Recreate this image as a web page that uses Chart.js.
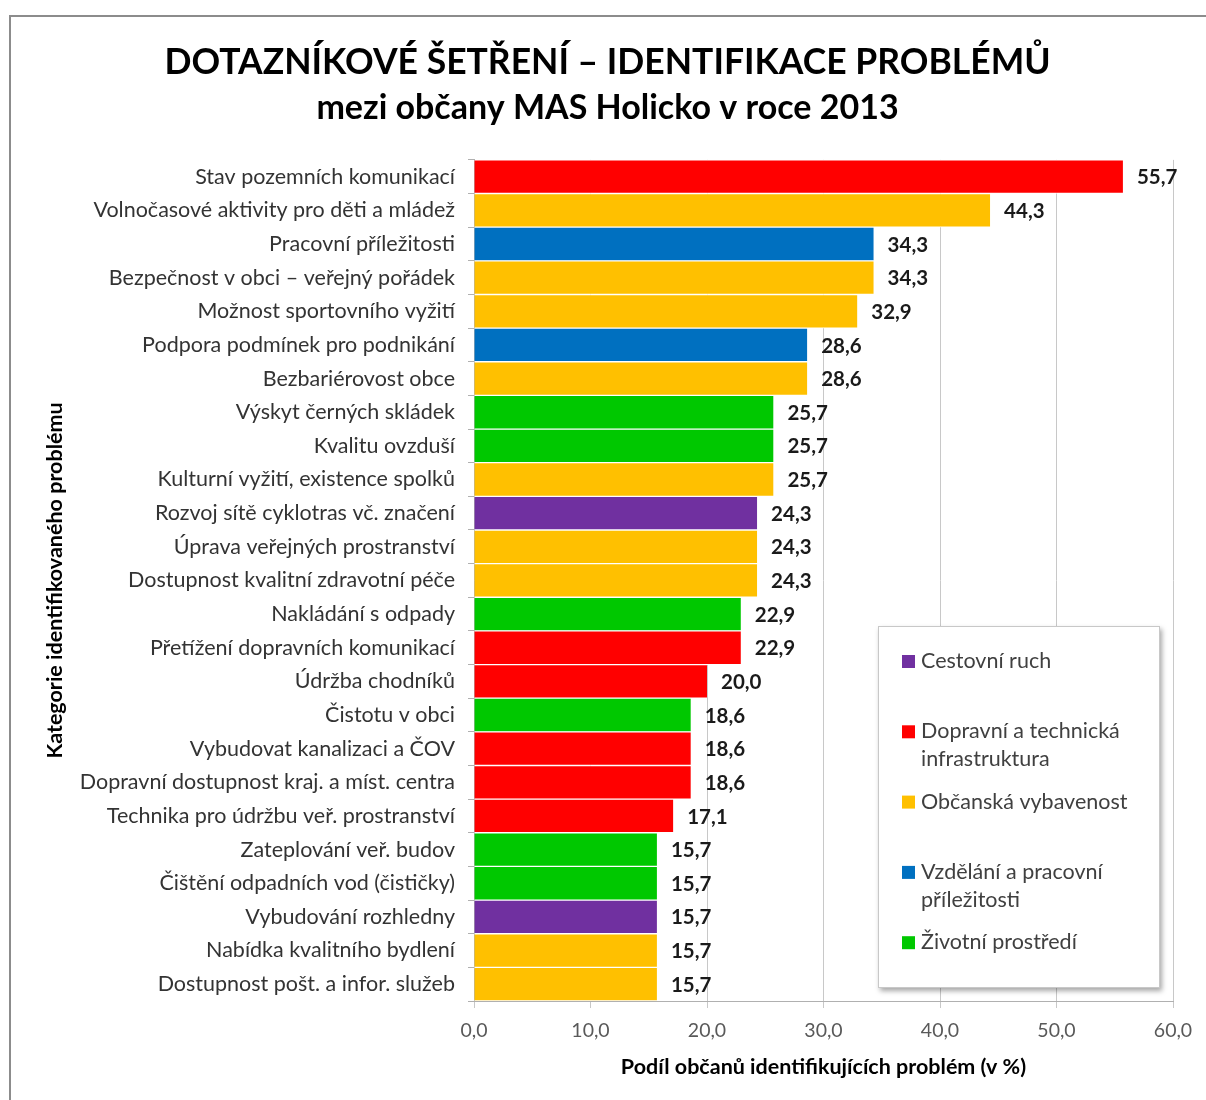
<!DOCTYPE html>
<html lang="cs">
<head>
<meta charset="utf-8">
<title>Dotazníkové šetření – identifikace problémů</title>
<script src="https://cdn.jsdelivr.net/npm/chart.js@4"></script>
<style>
  html, body { margin: 0; padding: 0; background: #fff; }
  #wrap { position: relative; width: 1206px; height: 1100px; overflow: hidden; }
  #frame { position: absolute; left: 9px; top: 15px; width: 1300px; height: 1200px;
           border-left: 2px solid #8c8c8c; border-top: 2px solid #8c8c8c; box-sizing: border-box; }
  canvas { position: absolute; left: 0; top: 0; }
</style>
</head>
<body>
<div id="wrap">
  <div id="frame"></div>
  <canvas id="chart" width="1206" height="1100"></canvas>
</div>
<script>
// Problem categories, sorted by share of respondents
const categories = [
  'Stav pozemních komunikací',
  'Volnočasové aktivity pro děti a mládež',
  'Pracovní příležitosti',
  'Bezpečnost v obci – veřejný pořádek',
  'Možnost sportovního vyžití',
  'Podpora podmínek pro podnikání',
  'Bezbariérovost obce',
  'Výskyt černých skládek',
  'Kvalitu ovzduší',
  'Kulturní vyžití, existence spolků',
  'Rozvoj sítě cyklotras vč. značení',
  'Úprava veřejných prostranství',
  'Dostupnost kvalitní zdravotní péče',
  'Nakládání s odpady',
  'Přetížení dopravních komunikací',
  'Údržba chodníků',
  'Čistotu v obci',
  'Vybudovat kanalizaci a ČOV',
  'Dopravní dostupnost kraj. a míst. centra',
  'Technika pro údržbu veř. prostranství',
  'Zateplování veř. budov',
  'Čištění odpadních vod (čističky)',
  'Vybudování rozhledny',
  'Nabídka kvalitního bydlení',
  'Dostupnost pošt. a infor. služeb'
];

// Share of citizens identifying the problem (%)
const shares = [
  55.7, 44.3, 34.3, 34.3, 32.9, 28.6, 28.6, 25.7, 25.7, 25.7,
  24.3, 24.3, 24.3, 22.9, 22.9, 20.0, 18.6, 18.6, 18.6, 17.1,
  15.7, 15.7, 15.7, 15.7, 15.7
];

// Thematic group of each problem (index into groupNames)
const groupOf = [
  1, 2, 3, 2, 2, 3, 2, 4, 4, 2,
  0, 2, 2, 4, 1, 1, 4, 1, 1, 1,
  4, 4, 0, 2, 2
];

const groupNames = [
  ['Cestovní ruch'],
  ['Dopravní a technická', 'infrastruktura'],
  ['Občanská vybavenost'],
  ['Vzdělání a pracovní', 'příležitosti'],
  ['Životní prostředí']
];
const groupColors = ['#7030A0', '#FF0000', '#FFC000', '#0070C0', '#00C800'];

const xTicks = [0, 10, 20, 30, 40, 50, 60];

const FONT = 'Lato, "Open Sans", sans-serif';
const fmt = v => v.toFixed(1).replace('.', ',');

// Value labels to the right of each bar
const valueLabels = {
  id: 'valueLabels',
  afterDatasetsDraw(chart) {
    const ctx = chart.ctx;
    const meta = chart.getDatasetMeta(0);
    ctx.save();
    ctx.font = 'bold 20.5px ' + FONT;
    ctx.fillStyle = '#1a1a1a';
    ctx.textAlign = 'left';
    ctx.textBaseline = 'middle';
    meta.data.forEach((bar, i) => {
      ctx.fillText(fmt(shares[i]), bar.x + 14, bar.y + 1);
    });
    ctx.restore();
  }
};

// Group legend box inside the plot area, lower right
const groupLegend = {
  id: 'groupLegend',
  afterDraw(chart) {
    const ctx = chart.ctx;
    const a = chart.chartArea;
    const w = 282, h = 362;
    const x0 = a.right - 295, y0 = a.bottom - 375;
    ctx.save();
    ctx.shadowColor = 'rgba(0,0,0,0.35)';
    ctx.shadowBlur = 5;
    ctx.shadowOffsetX = 2;
    ctx.shadowOffsetY = 3;
    ctx.fillStyle = '#ffffff';
    ctx.fillRect(x0, y0, w, h);
    ctx.restore();
    ctx.save();
    ctx.strokeStyle = '#c8c8c8';
    ctx.lineWidth = 1;
    ctx.strokeRect(x0 + 0.5, y0 + 0.5, w - 1, h - 1);
    ctx.font = '21.5px ' + FONT;
    ctx.textBaseline = 'middle';
    ctx.textAlign = 'left';
    groupNames.forEach((lines, i) => {
      const cy = y0 + 35 + i * 70.3;
      ctx.fillStyle = groupColors[i];
      ctx.fillRect(x0 + 24, cy - 6, 13, 13);
      ctx.fillStyle = '#404040';
      lines.forEach((t, j) => ctx.fillText(t, x0 + 43, cy + j * 28));
    });
    ctx.restore();
  }
};

new Chart(document.getElementById('chart'), {
  type: 'bar',
  data: {
    labels: categories,
    datasets: [{
      data: shares,
      backgroundColor: groupOf.map(g => groupColors[g]),
      borderColor: '#ffffff',
      borderWidth: { top: 1, bottom: 1, left: 0, right: 0 },
      borderSkipped: false,
      barPercentage: 1,
      categoryPercentage: 1
    }]
  },
  options: {
    indexAxis: 'y',
    responsive: false,
    animation: false,
    devicePixelRatio: 1,
    layout: { padding: { top: 0, right: 33, bottom: 0, left: 42 } },
    plugins: {
      legend: { display: false },
      tooltip: { enabled: false },
      title: {
        display: true,
        text: 'DOTAZNÍKOVÉ ŠETŘENÍ – IDENTIFIKACE PROBLÉMŮ',
        color: '#000',
        font: { family: FONT, size: 35.5, weight: 'bold' },
        padding: { top: 41, bottom: 4 }
      },
      subtitle: {
        display: true,
        text: 'mezi občany MAS Holicko v roce 2013',
        color: '#000',
        font: { family: FONT, size: 34, weight: 'bold' },
        padding: { top: 0, bottom: 31.5 }
      }
    },
    scales: {
      x: {
        min: 0,
        max: 60,
        afterBuildTicks: s => { s.ticks = xTicks.map(v => ({ value: v })); },
        afterFit: s => { s.height = 99; },
        ticks: {
          callback: v => fmt(v),
          color: '#595959',
          font: { family: FONT, size: 19.5 },
          padding: 11
        },
        grid: { color: '#c8c8c8', lineWidth: 1, tickLength: 7 },
        border: { color: '#b0b0b0', width: 1 },
        title: {
          display: true,
          text: 'Podíl občanů identifikujících problém (v %)',
          color: '#000',
          font: { family: FONT, size: 21.5, weight: 'bold' },
          padding: { top: 10, bottom: 20 }
        }
      },
      y: {
        afterFit: s => { s.width = 432; },
        ticks: {
          color: '#333333',
          font: { family: FONT, size: 21.5 },
          padding: 13
        },
        grid: { drawOnChartArea: false, tickLength: 6, color: '#b0b0b0', offset: true },
        border: { color: '#b0b0b0', width: 1 },
        title: {
          display: true,
          text: 'Kategorie identifikovaného problému',
          color: '#000',
          font: { family: FONT, size: 21.5, weight: 'bold' },
          padding: { top: 0, bottom: 0 }
        }
      }
    }
  },
  plugins: [valueLabels, groupLegend]
});
</script>
</body>
</html>
